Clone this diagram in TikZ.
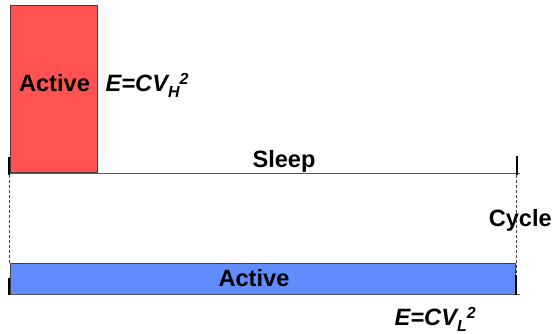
\documentclass[tikz,border=0pt]{standalone}
\usepackage{fontspec}
\setmainfont{Liberation Sans}
\definecolor{hotred}{RGB}{255,82,82}
\definecolor{coolblue}{RGB}{96,140,255}
\definecolor{edgegray}{RGB}{64,64,64}
\newcommand{\bigtxt}{\fontsize{23.6}{24}\selectfont\bfseries}
\newcommand{\smalltxt}{\fontsize{16}{16}\selectfont\bfseries\itshape}
\begin{document}
\begin{tikzpicture}[x=1pt,y=-1pt,
  bar/.style={draw=edgegray, line width=0.9pt, inner sep=0pt},
  lbl/.style={font=\bigtxt, inner sep=0pt, anchor=base},
  eqn/.style={font=\bigtxt\itshape, inner sep=0pt, anchor=base west},
  axisline/.style={draw=black!65, line width=1.1pt},
  tickmark/.style={draw=black, line width=2pt},
  guide/.style={draw=black!75, line width=0.6pt, dash pattern=on 3pt off 2pt}]
\useasboundingbox (0,0) rectangle (556,333);

% energy blocks
\node[bar, fill=hotred, minimum width=87pt, minimum height=167pt] (hi) at (53.8,89.2) {};
\node[bar, fill=coolblue, minimum width=505pt, minimum height=31pt] (lo) at (263.1,278.8) {};

% time axes and guides
\coordinate (t0) at (9,173.3);
\coordinate (t1) at (520,173.3);
\coordinate (b0) at (9,294.3);
\coordinate (b1) at (520,294.3);
\coordinate (tl0) at (9,157);
\coordinate (tl1) at (9,175);
\coordinate (tr0) at (516.5,156);
\coordinate (tr1) at (516.5,174.5);
\coordinate (bl0) at (8.8,278);
\coordinate (bl1) at (8.8,295);
\coordinate (br0) at (516,275);
\coordinate (br1) at (516,295);
\coordinate (gl0) at (9,175);
\coordinate (gl1) at (9,264);
\coordinate (gr0) at (516.7,174.5);
\coordinate (gr1) at (516.7,275);

\draw[axisline] (t0) -- (t1);
\draw[axisline] (b0) -- (b1);
\draw[guide] (gl0) -- (gl1);
\draw[guide] (gr0) -- (gr1);
\draw[tickmark] (tl0) -- (tl1);
\draw[tickmark] (tr0) -- (tr1);
\draw[tickmark] (bl0) -- (bl1);
\draw[tickmark] (br0) -- (br1);

% labels
\node[lbl] (hitxt) at (54.5,91.7) {Active};
\node[lbl] (lotxt) at (254,286.7) {Active};
\node[lbl] (sleep) at (284,167.7) {Sleep};
\node[lbl, anchor=base east] (cycle) at (552,226.7) {Cycle};
\node[eqn] (ehi) at (105.5,91.7) {E=CV\raisebox{-6pt}{\smalltxt H}\raisebox{7pt}{\smalltxt 2}};
\node[eqn] (elo) at (394.5,325) {E=CV\raisebox{-6pt}{\smalltxt L}\raisebox{7pt}{\smalltxt 2}};
\end{tikzpicture}
\end{document}
